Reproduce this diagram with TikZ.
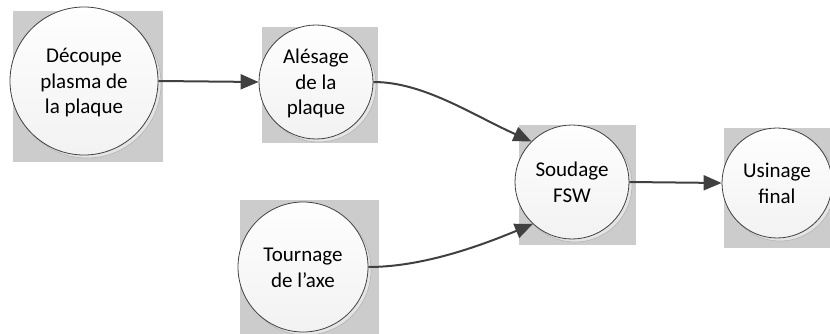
\documentclass[tikz,border=0pt]{standalone}
\usepackage{fontspec}
\setmainfont{Carlito}
\usetikzlibrary{arrows.meta}
\definecolor{shadegray}{HTML}{CCCCCC}
\definecolor{edgegray}{HTML}{404040}
\definecolor{ringgray}{HTML}{B4B4B4}
\definecolor{halogray}{HTML}{E4E4E4}
\definecolor{fillhi}{HTML}{FEFEFE}
\definecolor{filllo}{HTML}{F2F2F2}
\newcommand\vstrut{\rule[-5.6pt]{0pt}{25.6pt}}
\tikzset{
  procnode/.style={circle, draw=edgegray, line width=0.8pt, top color=fillhi, bottom color=filllo,
    inner sep=0pt, align=center, text=black, font=\fontsize{21}{25.6}\selectfont},
  halo/.style={draw=ringgray, fill=halogray, line width=0.6pt},
  backsq/.style={fill=shadegray},
  arrowline/.style={draw=edgegray, line width=2pt, -{Triangle[length=18pt,width=15pt]}}
}
\begin{document}
\begin{tikzpicture}[x=1pt,y=-1pt]
\clip (0,0) rectangle (830,334);
% shadow squares
\fill[backsq] (13,11) rectangle (163,162);
\fill[backsq] (262,27) rectangle (378,143);
\fill[backsq] (519,125) rectangle (636,245);
\fill[backsq] (724,128) rectangle (845,248);
\fill[backsq] (240,200) rectangle (379,340);
% halos
\draw[halo] (87,84) circle[radius=74];
\draw[halo] (319,85) circle[radius=57];
\draw[halo] (575,185) circle[radius=57];
\draw[halo] (780,186) circle[radius=55];
\draw[halo] (306,270) circle[radius=65];
% nodes
\node[procnode, minimum size=148pt] (C1) at (84,81) {\vstrut Découpe\\\vstrut plasma de\\\vstrut la plaque};
\node[procnode, minimum size=114pt] (C2) at (316,82) {\vstrut Alésage\\\vstrut de la\\\vstrut plaque};
\node[procnode, minimum size=114pt] (C3) at (572,182) {\vstrut Soudage\\\vstrut FSW};
\node[procnode, minimum size=110pt] (C4) at (777,183) {\vstrut Usinage\\\vstrut final};
\node[procnode, minimum size=130pt] (C5) at (303,267) {\vstrut Tournage\\\vstrut de l’axe};
% connectors
\draw[arrowline] (C1.east) -- (C2.west);
\draw[arrowline] (C2.east) .. controls +(50,0) and +(-60,-27) .. (C3.135);
\draw[arrowline] (C5.east) .. controls +(50,0) and +(-60,25) .. (C3.227);
\draw[arrowline] (C3.east) -- (C4.west);
\end{tikzpicture}
\end{document}
